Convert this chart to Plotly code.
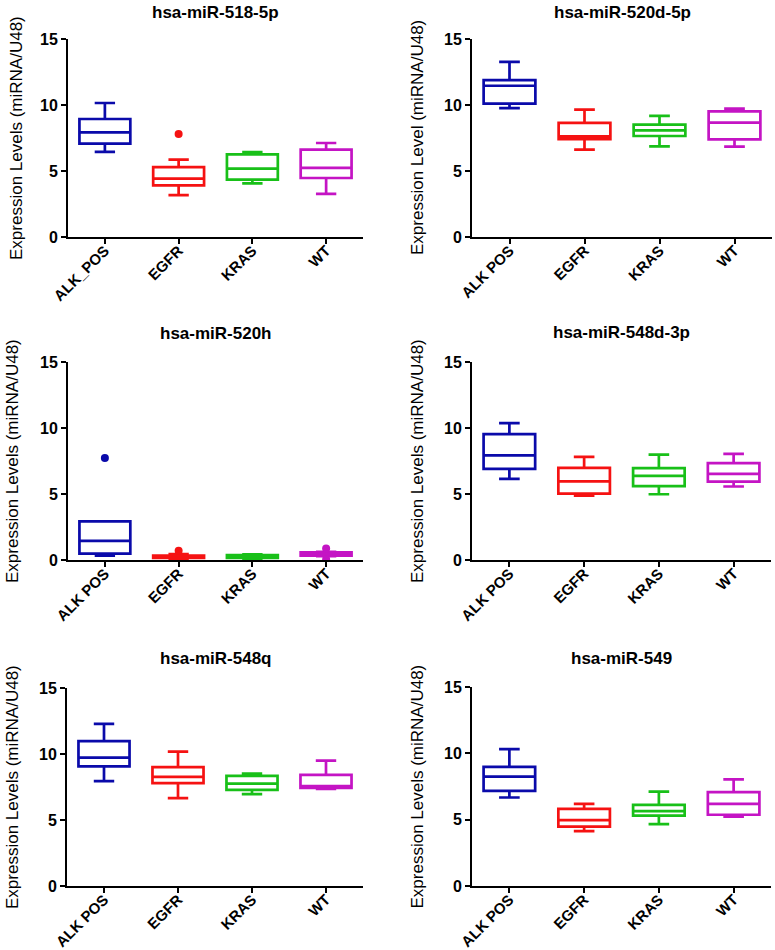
import plotly.graph_objects as go

# ---------------- data ----------------
panel_titles = ["hsa-miR-518-5p", "hsa-miR-520d-5p", "hsa-miR-520h",
                "hsa-miR-548d-3p", "hsa-miR-548q", "hsa-miR-549"]
y_titles = ["Expression Levels (miRNA/U48)", "Expression Level (miRNA/U48)",
            "Expression Levels (miRNA/U48)", "Expression Levels (miRNA/U48)",
            "Expression Levels (miRNA/U48)", "Expression Levels (miRNA/U48)"]
categories_first = ["ALK_POS", "EGFR", "KRAS", "WT"]
categories_other = ["ALK POS", "EGFR", "KRAS", "WT"]
y_ticks = [0, 5, 10, 15]

# per panel, per group (ALK, EGFR, KRAS, WT)
lower_whisker = [
    [6.45, 3.17, 4.07, 3.27],
    [9.77, 6.62, 6.87, 6.84],
    [0.33, 0.10, 0.10, 0.30],
    [6.15, 4.88, 4.98, 5.57],
    [7.94, 6.66, 6.96, 7.36],
    [6.67, 4.13, 4.66, 5.23],
]
quartile1 = [
    [7.07, 3.91, 4.34, 4.47],
    [10.10, 7.42, 7.65, 7.40],
    [0.48, 0.15, 0.15, 0.33],
    [6.91, 5.03, 5.59, 5.94],
    [9.07, 7.79, 7.28, 7.44],
    [7.17, 4.48, 5.31, 5.37],
]
medians = [
    [7.93, 4.42, 5.18, 5.23],
    [11.46, 7.63, 8.08, 8.66],
    [1.45, 0.25, 0.30, 0.45],
    [7.93, 5.95, 6.37, 6.53],
    [9.73, 8.27, 7.76, 7.56],
    [8.25, 4.96, 5.64, 6.19],
]
quartile3 = [
    [8.94, 5.30, 6.26, 6.62],
    [11.89, 8.64, 8.51, 9.52],
    [2.92, 0.33, 0.38, 0.58],
    [9.54, 6.98, 6.96, 7.34],
    [10.97, 9.00, 8.34, 8.42],
    [8.98, 5.81, 6.11, 7.07],
]
upper_whisker = [
    [10.15, 5.86, 6.44, 7.12],
    [13.26, 9.65, 9.17, 9.72],
    [2.92, 0.45, 0.42, 0.62],
    [10.37, 7.82, 7.99, 8.04],
    [12.28, 10.18, 8.52, 9.50],
    [10.32, 6.19, 7.12, 8.03],
]
# outliers: (panel index, group index, value)
outlier_panel = [0, 2, 2, 2, 2]
outlier_group = [1, 0, 1, 3, 3]
outlier_value = [7.80, 7.72, 0.70, 0.88, 0.05]

group_colors = ["#0a0aaa", "#f51212", "#18c018", "#c414c4"]

# ---------------- layout geometry (pixels) ----------------
W, H = 775, 950
panel_px = [  # x0, x1, ytop, ybottom
    (68, 363, 39, 237),
    (472, 772, 39, 237),
    (68, 363, 362, 560),
    (472, 771, 362, 560),
    (67, 363, 688, 886),
    (472, 771, 687, 886),
]
title_y_px = [12, 12, 333, 332, 658, 658]
ytitle_x_px = [16, 417, 12, 417, 12, 417]

fig = go.Figure()
annotations = []
layout_axes = {}

for p in range(6):
    cats = categories_first if p == 0 else categories_other
    ax = "" if p == 0 else str(p + 1)
    xref = "x" + ax
    yref = "y" + ax
    for g in range(4):
        fig.add_trace(go.Box(
            x=[cats[g]],
            lowerfence=[lower_whisker[p][g]],
            q1=[quartile1[p][g]],
            median=[medians[p][g]],
            q3=[quartile3[p][g]],
            upperfence=[upper_whisker[p][g]],
            boxpoints=False,
            width=0.69,
            whiskerwidth=0.4,
            line=dict(color=group_colors[g], width=2.7),
            fillcolor="rgba(255,255,255,0)",
            xaxis=xref, yaxis=yref,
            showlegend=False, hoverinfo="skip",
        ))
    ox, oy, oc = [], [], []
    for i in range(len(outlier_value)):
        if outlier_panel[i] == p:
            ox.append(cats[outlier_group[i]])
            oy.append(outlier_value[i])
            oc.append(group_colors[outlier_group[i]])
    if ox:
        fig.add_trace(go.Scatter(
            x=ox, y=oy, mode="markers",
            marker=dict(color=oc, size=8),
            xaxis=xref, yaxis=yref, showlegend=False, hoverinfo="skip",
        ))

    x0, x1, yt, yb = panel_px[p]
    dom_x = [x0 / W, x1 / W]
    dom_y = [1 - yb / H, 1 - yt / H]
    tickfont = dict(family="Liberation Sans, Arial", size=16, color="black", weight="bold")
    xtickfont = dict(family="Liberation Sans, Arial", size=15, color="black", weight="bold")
    layout_axes["xaxis" + ax] = dict(
        domain=dom_x, anchor=yref, type="category",
        categoryorder="array", categoryarray=cats,
        range=[-0.5, 3.5], showline=True, linewidth=2, linecolor="black",
        ticks="outside", ticklen=5, tickwidth=2, tickcolor="black",
        tickangle=-45, tickfont=xtickfont, showgrid=False, zeroline=False,
        fixedrange=True, automargin=False, ticklabelstandoff=-8,
    )
    layout_axes["yaxis" + ax] = dict(
        domain=dom_y, anchor=xref, range=[0, 15], tickvals=y_ticks,
        showline=True, linewidth=2, linecolor="black",
        ticks="outside", ticklen=5, tickwidth=2, tickcolor="black",
        tickfont=tickfont, showgrid=False, zeroline=False, fixedrange=True,
        automargin=False,
    )
    annotations.append(dict(
        text=panel_titles[p], xref="paper", yref="paper",
        x=(x0 + x1) / 2 / W, y=1 - title_y_px[p] / H,
        xanchor="center", yanchor="middle", showarrow=False,
        font=dict(family="Liberation Sans, Arial", size=17, color="black", weight="bold"),
    ))
    annotations.append(dict(
        text=y_titles[p], xref="paper", yref="paper",
        x=ytitle_x_px[p] / W, y=1 - (yt + yb) / 2 / H,
        xanchor="center", yanchor="middle", showarrow=False, textangle=-90,
        font=dict(family="Liberation Sans, Arial", size=17, color="black"),
    ))

fig.update_layout(
    width=W, height=H, margin=dict(l=0, r=0, t=0, b=0),
    paper_bgcolor="white", plot_bgcolor="white",
    annotations=annotations, boxmode="overlay",
    **layout_axes,
)

fig.write_html(
    "out.html",
    config={"displayModeBar": False, "staticPlot": True},
    post_script="document.body.style.margin='0';document.body.style.overflow='hidden';",
)
